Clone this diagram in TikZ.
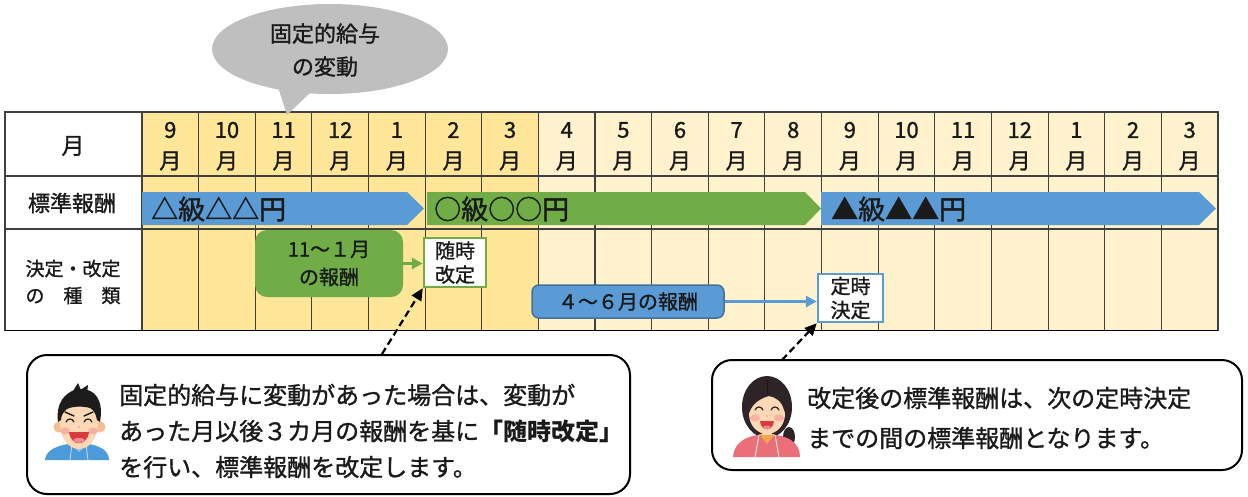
\documentclass[tikz,border=0pt]{standalone}
\usepackage{fontspec}
\setmainfont{Noto Sans CJK JP}[UprightFeatures={FakeBold=1.2}]
\usetikzlibrary{arrows.meta}

\definecolor{goldcell}{HTML}{FFE699}
\definecolor{creamcell}{HTML}{FFF2CC}
\definecolor{gridline}{HTML}{404040}
\definecolor{barblue}{HTML}{5B9BD5}
\definecolor{bargreen}{HTML}{70AD47}
\definecolor{blueedge}{HTML}{41719C}
\definecolor{bubblegray}{HTML}{BFBFBF}
\definecolor{inktext}{HTML}{1A1A1A}
\definecolor{skin}{HTML}{FCD8B4}
\definecolor{skindark}{HTML}{F4BE94}
\definecolor{blush}{HTML}{F6A39B}
\definecolor{hairblack}{HTML}{1C1C1C}
\definecolor{hairbrown}{HTML}{2E2326}
\definecolor{mouthred}{HTML}{D93A3F}
\definecolor{tongue}{HTML}{F08C8C}
\definecolor{shirtblue}{HTML}{4C9BDB}
\definecolor{collarblue}{HTML}{8CC3EE}
\definecolor{shirtpink}{HTML}{EA6F78}
\definecolor{collarorange}{HTML}{F5A54A}

\begin{document}
\begin{tikzpicture}[x=1pt,y=-1pt,
  hdr/.style={font=\fontsize{22}{22}\selectfont, inner sep=0pt, text=inktext},
  barlabel/.style={font=\fontsize{27}{27}\selectfont, inner sep=0pt, anchor=west, text=inktext},
  kindbox/.style={draw=#1, fill=white, line width=2.5pt, inner sep=0pt, align=center,
    font=\fontsize{20}{23}\selectfont, text=inktext},
  paybox/.style={inner sep=0pt, align=center, text=inktext},
  flowarrow/.style={draw=#1, line width=3pt, -{Triangle[length=11pt,width=11pt]}},
  dasharrow/.style={draw=black, line width=2.2pt, dash pattern=on 7pt off 4pt,
    -{Triangle[length=12pt,width=11pt]}},
  note/.style={draw=black, line width=2pt, rounded corners=20pt, fill=white, inner sep=0pt},
  notetext/.style={anchor=west, align=left, inner sep=0pt, text=inktext}
]
\useasboundingbox (0,0) rectangle (1248,496);

% ---------- calendar table ----------
\fill[white] (5,112) rectangle (142,330.5);
\fill[goldcell] (142,112) rectangle (538.4,330.5);
\fill[creamcell] (538.4,112) rectangle (1218,330.5);
\foreach \k in {0,...,19}
  \draw[gridline, line width=1.1pt] ({142+\k*56.63},112) -- ({142+\k*56.63},330.5);
\foreach \yy in {176,229}
  \draw[gridline, line width=1.1pt] (5,\yy) -- (1218,\yy);
\draw[gridline, line width=1.3pt] (5,112) rectangle (1218,330.5);
\draw[black, line width=1.8pt] (5,330.5) -- (1218,330.5);

% month headings
\foreach \m [count=\k from 0] in {9,10,11,12,1,2,3,4,5,6,7,8,9,10,11,12,1,2,3} {
  \node[hdr] (num\k) at ({142+(\k+0.5)*56.63},130) {\m};
  \node[hdr] (mon\k) at ({142+(\k+0.5)*56.63},161) {月};
}

% row labels
\node[font=\fontsize{23}{23}\selectfont, inner sep=0pt, text=inktext] (rowmonth) at (73,146) {月};
\node[font=\fontsize{22}{22}\selectfont, inner sep=0pt, text=inktext] (rowstd) at (72,203) {標準報酬};
\node[font=\fontsize{19}{25}\selectfont, inner sep=0pt, align=center, text=inktext] (rowkind) at (73,282) {決定・改定\\[2pt]の　種　類};

% standard remuneration bars
\fill[barblue] (142,192) -- (407,192) -- (424,208.5) -- (407,225) -- (142,225) -- cycle;
\fill[bargreen] (427,192) -- (805,192) -- (821,208.5) -- (805,225) -- (427,225) -- cycle;
\fill[barblue] (821,192) -- (1199,192) -- (1216,208.5) -- (1199,225) -- (821,225) -- cycle;
\node[barlabel] (grade1) at (151,209) {△級△△円};
\node[barlabel] (grade2) at (434,209) {○級○○円};
\node[barlabel] (grade3) at (831,209) {▲級▲▲円};

% occasional revision
\node[paybox, fill=bargreen, rounded corners=12pt, minimum width=148pt, minimum height=67pt,
  font=\fontsize{20}{24}\selectfont]
  (pay1) at (329,263.5) {11～１月\\[4pt]の報酬};
\node[kindbox=bargreen, minimum width=62pt, minimum height=49pt] (zuiji) at (455,262.5) {随時\\[1pt]改定};
\draw[flowarrow=bargreen] (pay1.east) -- (pay1.east -| zuiji.west);

% regular determination
\node[paybox, fill=barblue, draw=blueedge, line width=1.5pt, rounded corners=7pt,
  minimum width=192pt, minimum height=33pt, font=\fontsize{20}{20}\selectfont]
  (pay2) at (628,301.5) {４～６月の報酬};
\node[kindbox=barblue, minimum width=65pt, minimum height=48pt] (teiji) at (850.5,298) {定時\\[1pt]決定};
\draw[flowarrow=barblue] (pay2.east) -- (pay2.east -| teiji.west);

% ---------- speech bubble ----------
\fill[bubblegray] (330,49) ellipse [x radius=118pt, y radius=45pt];
\fill[bubblegray] (277,84) -- (287,115) -- (314,89) -- cycle;
\node[font=\fontsize{22}{29}\selectfont, align=center, inner sep=0pt, text=inktext]
  (bubbletext) at (325,50) {固定的給与\\[4pt]の変動};

% ---------- notes ----------
\node[note, minimum width=603pt, minimum height=139pt] (note1) at (328.5,424.5) {};
\node[note, minimum width=530pt, minimum height=110pt] (note2) at (977,415) {};

\node[notetext, font=\fontsize{24}{32}\selectfont] (note1text) at (119,431)
  {固定的給与に変動があった場合は、変動が\\[4pt]あった月以後３カ月の報酬を基に\textbf{「随時改定」}\\[4pt]を行い、標準報酬を改定します。};
\node[notetext, font=\fontsize{24}{34}\selectfont] (note2text) at (807,418)
  {改定後の標準報酬は、次の定時決定\\[6pt]までの間の標準報酬となります。};

\coordinate (tail1) at (382,354);
\coordinate (tail2) at (782,360);
\draw[dasharrow] (tail1) -- (zuiji.south west);
\draw[dasharrow] (tail2) -- (teiji.south west);

% ---------- man ----------
\begin{scope}[shift={(79,422)}]
  \fill[shirtblue] (-34,38) .. controls (-33,28) and (-22,22) .. (0,21)
    .. controls (20,22) and (30,28) .. (30,38) -- cycle;
  \fill[collarblue] (-9,21) -- (0,30) -- (9,21) -- (5,20) -- (0,25) -- (-5,20) -- cycle;
  \fill[skin] (-6,14) rectangle (6,22);
  \draw[white!85!blue, line width=0.8pt] (-7,22) -- (-9,38) (7,22) -- (9,38);
  \fill[skindark] (-20,5) circle (5.5pt) (21,5) circle (5.5pt);
  \fill[skin] (0,2) ellipse (19pt and 25pt);
  \fill[hairblack] (-21,0) .. controls (-24,-22) and (-10,-33) .. (2,-33)
    .. controls (16,-33) and (25,-22) .. (21,0) -- (18,-2)
    .. controls (17,-8) and (15,-12) .. (11,-14)
    .. controls (4,-16) and (-6,-16) .. (-12,-13)
    .. controls (-16,-10) and (-18,-6) .. (-18,-2) -- cycle;
  \fill[hairblack] (-6,-31) -- (-1,-39) -- (2,-32) -- cycle;
  \fill[hairblack] (1,-32) -- (9,-37) -- (8,-29) -- cycle;
  \fill[blush, opacity=0.75] (-14,9) ellipse (5pt and 3.5pt) (14,9) ellipse (5pt and 3.5pt);
  \draw[hairblack, line width=1.4pt, line cap=round] (-14,-10) -- (-5,-6) (14,-10) -- (5,-6);
  \draw[hairblack, line width=1.2pt, line cap=round]
    (-13,0) .. controls (-11,-4) and (-7,-4) .. (-5,0)
    (5,0) .. controls (7,-4) and (11,-4) .. (13,0);
  \fill[blush] (0,5) circle (1.2pt);
  \fill[mouthred] (-10,10) .. controls (-8,25) and (8,25) .. (10,10) -- cycle;
  \fill[tongue] (-6,18) .. controls (-3,22) and (3,22) .. (6,18) .. controls (3,15) and (-3,15) .. (-6,18) -- cycle;
\end{scope}

% ---------- woman ----------
\begin{scope}[shift={(767,413)}]
  \fill[hairbrown] (22,24) ellipse (6pt and 10pt);
  \fill[hairbrown] (0,-6) ellipse (25pt and 31pt);
  \fill[shirtpink] (-34,44) .. controls (-33,30) and (-22,22) .. (0,21)
    .. controls (22,22) and (33,30) .. (33,44) -- cycle;
  \fill[collarorange] (-8,21) -- (0,31) -- (8,21) -- cycle;
  \fill[skin] (-5,14) rectangle (5,22);
  \draw[white!90!gray, line width=0.9pt] (-8,22) -- (-12,44) (8,22) -- (12,44);
  \fill[skin] (0,1) ellipse (18pt and 20pt);
  \fill[hairbrown] (-20,4) .. controls (-22,-20) and (-10,-34) .. (1,-34)
    .. controls (14,-34) and (23,-20) .. (20,4) -- (17,-3)
    .. controls (15,-12) and (8,-16) .. (2,-17)
    .. controls (-6,-15) and (-14,-10) .. (-17,-2) -- cycle;
  \draw[hairbrown!60!black, line width=0.8pt] (0,-33) -- (1,-17);
  \fill[blush, opacity=0.75] (-12,5) ellipse (5pt and 3.5pt) (12,5) ellipse (5pt and 3.5pt);
  \draw[hairbrown, line width=1.2pt, line cap=round]
    (-12,-3) .. controls (-10,-7) and (-6,-7) .. (-4,-3)
    (4,-3) .. controls (6,-7) and (10,-7) .. (12,-3);
  \fill[blush] (0,3) circle (1.2pt);
  \fill[mouthred] (-7,8) .. controls (-6,19) and (6,19) .. (7,8) -- cycle;
  \fill[tongue] (-4,14) .. controls (-2,17) and (2,17) .. (4,14) .. controls (2,12) and (-2,12) .. (-4,14) -- cycle;
\end{scope}
\end{tikzpicture}
\end{document}
